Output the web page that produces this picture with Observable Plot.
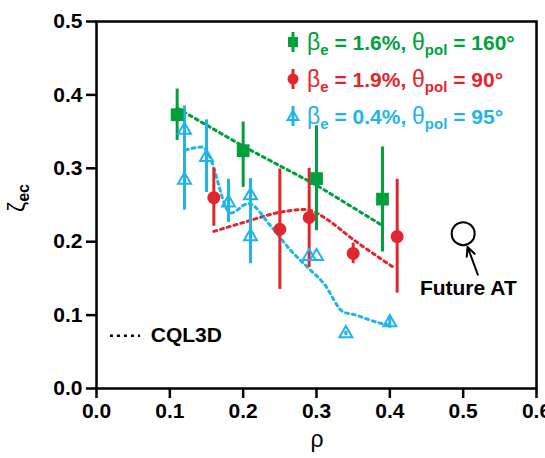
<!DOCTYPE html>
<html>
<head>
<meta charset="utf-8">
<script src="https://cdn.jsdelivr.net/npm/d3@7"></script>
<script src="https://cdn.jsdelivr.net/npm/@observablehq/plot@0.6"></script>
<style>
  html, body { margin: 0; padding: 0; background: white; }
  #chart { width: 545px; height: 458px; }
</style>
</head>
<body>
<div id="chart"></div>
<script>
// ---- data ----
const xTicks = [0.0, 0.1, 0.2, 0.3, 0.4, 0.5, 0.6];
const yTicks = [0.0, 0.1, 0.2, 0.3, 0.4, 0.5];

// beta_e = 1.6%, theta_pol = 160 (green squares)
const rhoG = [0.11, 0.20, 0.30, 0.39];
const zetaG = [0.373, 0.324, 0.286, 0.258];
const loG = [0.338, 0.274, 0.215, 0.186];
const hiG = [0.408, 0.363, 0.358, 0.329];
const cqlRhoG = [0.11, 0.20, 0.30, 0.39];
const cqlZetaG = [0.382, 0.330, 0.277, 0.222];

// beta_e = 1.9%, theta_pol = 90 (red circles)
const rhoR = [0.16, 0.25, 0.29, 0.35, 0.41];
const zetaR = [0.260, 0.217, 0.233, 0.184, 0.207];
const loR = [0.221, 0.135, 0.165, 0.170, 0.130];
const hiR = [0.300, 0.299, 0.300, 0.198, 0.285];
const cqlRhoR = [0.16, 0.20, 0.25, 0.29, 0.315, 0.35, 0.405];
const cqlZetaR = [0.214, 0.226, 0.240, 0.243, 0.230, 0.203, 0.165];

// beta_e = 0.4%, theta_pol = 95 (blue open triangles)
const rhoB = [0.12, 0.12, 0.15, 0.18, 0.21, 0.21, 0.29, 0.30, 0.34, 0.40];
const zetaB = [0.352, 0.284, 0.315, 0.253, 0.263, 0.207, 0.180, 0.180, 0.075, 0.090];
const loB = [0.320, 0.243, 0.267, 0.226, 0.240, 0.170, 0.180, 0.180, 0.072, 0.082];
const hiB = [0.385, 0.325, 0.366, 0.285, 0.286, 0.240, 0.180, 0.180, 0.078, 0.098];
const cqlRhoB = [0.121, 0.145, 0.153, 0.183, 0.207, 0.237, 0.265, 0.288, 0.31, 0.337, 0.35, 0.387, 0.397];
const cqlZetaB = [0.325, 0.329, 0.318, 0.239, 0.252, 0.222, 0.188, 0.165, 0.143, 0.104, 0.101, 0.089, 0.087];

// annotations
const futureAT = [{rho: 0.50, zeta: 0.211}];
const futureArrow = [{x1: 0.520, y1: 0.155, x2: 0.506, y2: 0.193}];
const futureLabel = [{rho: 0.507, zeta: 0.137, text: "Future AT"}];
const cqlKey = [{x1: 0.019, x2: 0.060, y: 0.072}];
const cqlLabel = [{rho: 0.074, zeta: 0.072, text: "CQL3D"}];

const GREEN = "#00a13c", RED = "#e1262e", BLUE = "#1fb4ea";

const pts = (xs, ys, lo, hi) => xs.map((x, i) => ({rho: x, zeta: ys[i], lo: lo ? lo[i] : null, hi: hi ? hi[i] : null}));
const G = pts(rhoG, zetaG, loG, hiG);
const R = pts(rhoR, zetaR, loR, hiR);
const B = pts(rhoB, zetaB, loB, hiB);
const cG = pts(cqlRhoG, cqlZetaG);
const cR = pts(cqlRhoR, cqlZetaR);
const cB = pts(cqlRhoB, cqlZetaB);

const dash = "3,4";
const plot = Plot.plot({
  width: 545,
  height: 458,
  marginLeft: 96,
  marginRight: 9,
  marginTop: 21,
  marginBottom: 70,
  x: {domain: [0, 0.6]},
  y: {domain: [0, 0.5]},
  style: {fontFamily: "'Liberation Sans', Arial, sans-serif", fontSize: "21px", fontWeight: "bold", color: "black", background: "white", overflow: "visible"},
  marks: [
    Plot.axisX({ticks: xTicks, tickFormat: d3.format(".1f"), tickSize: 10, tickPadding: 5, strokeWidth: 2.5, label: null, fontSize: 21}),
    Plot.axisY({ticks: yTicks, tickFormat: d3.format(".1f"), tickSize: 10, tickPadding: 4, strokeWidth: 2.5, label: null, fontSize: 21}),
    Plot.frame({stroke: "black", strokeWidth: 2.5}),
    // CQL3D curves
    Plot.line(cG, {x: "rho", y: "zeta", stroke: GREEN, strokeWidth: 3, strokeDasharray: dash}),
    Plot.line(cR, {x: "rho", y: "zeta", stroke: RED, strokeWidth: 3, strokeDasharray: dash, curve: "catmull-rom"}),
    Plot.line(cB, {x: "rho", y: "zeta", stroke: BLUE, strokeWidth: 3, strokeDasharray: dash, curve: "monotone-x"}),
    // error bars
    Plot.ruleX(B, {x: "rho", y1: "lo", y2: "hi", stroke: BLUE, strokeWidth: 3}),
    Plot.ruleX(R, {x: "rho", y1: "lo", y2: "hi", stroke: RED, strokeWidth: 3}),
    Plot.ruleX(G, {x: "rho", y1: "lo", y2: "hi", stroke: GREEN, strokeWidth: 3}),
    // markers
    Plot.dot(B, {x: "rho", y: "zeta", symbol: "triangle", r: 4.8, stroke: BLUE, strokeWidth: 2, fill: "none"}),
    Plot.dot(R, {x: "rho", y: "zeta", symbol: "circle", r: 6.5, fill: RED, stroke: "none"}),
    Plot.dot(G, {x: "rho", y: "zeta", symbol: "square", r: 7.2, fill: GREEN, stroke: "none"}),
    // Future AT
    Plot.dot(futureAT, {x: "rho", y: "zeta", r: 11.5, stroke: "black", strokeWidth: 2, fill: "white"}),
    Plot.arrow(futureArrow, {x1: "x1", y1: "y1", x2: "x2", y2: "y2", stroke: "black", strokeWidth: 2, headLength: 9, headAngle: 50}),
    Plot.text(futureLabel, {x: "rho", y: "zeta", text: "text", fontSize: 21, fontWeight: "bold", fill: "black"}),
    // CQL3D key
    Plot.ruleY(cqlKey, {x1: "x1", x2: "x2", y: "y", stroke: "black", strokeWidth: 2.5, strokeDasharray: dash}),
    Plot.text(cqlLabel, {x: "rho", y: "zeta", text: "text", textAnchor: "start", fontSize: 21, fontWeight: "bold", fill: "black"})
  ]
});
document.getElementById("chart").appendChild(plot);

// ---- labels and legend ----
const svg = d3.select(plot);
// x label
svg.append("text").attr("x", 317).attr("y", 447).attr("text-anchor", "middle")
  .style("font-size", "23px").style("font-weight", "normal").text("ρ");
// y label
const yl = svg.append("text").attr("transform", "translate(25,212) rotate(-90)").attr("text-anchor", "start")
  .style("font-size", "23px").style("font-weight", "normal");
yl.append("tspan").text("ζ");
yl.append("tspan").attr("dy", 4).style("font-size", "16px").style("font-weight", "bold").text("ec");

const legend = [
  {color: GREEN, sym: "square", beta: "1.6%", theta: "160°", y: 50},
  {color: RED, sym: "circle", beta: "1.9%", theta: "90°", y: 87},
  {color: BLUE, sym: "triangle", beta: "0.4%", theta: "95°", y: 124}
];
const lx = 293;
legend.forEach(d => {
  const cy = d.y - 8;
  svg.append("line").attr("x1", lx).attr("x2", lx).attr("y1", cy - 10).attr("y2", cy + 10)
    .attr("stroke", d.color).attr("stroke-width", 3);
  if (d.sym === "square") {
    svg.append("rect").attr("x", lx - 5).attr("y", cy - 5).attr("width", 10).attr("height", 10).attr("fill", d.color);
  } else if (d.sym === "circle") {
    svg.append("circle").attr("cx", lx).attr("cy", cy).attr("r", 5.5).attr("fill", d.color);
  } else {
    svg.append("path").attr("d", d3.symbol(d3.symbolTriangle, 50)()).attr("transform", `translate(${lx},${cy + 1})`)
      .attr("fill", "none").attr("stroke", d.color).attr("stroke-width", 2);
  }
  const t = svg.append("text").attr("x", 307).attr("y", d.y).attr("fill", d.color).attr("text-anchor", "start")
    .style("font-size", "21px").style("font-weight", "bold");
  t.append("tspan").style("font-weight", "normal").style("font-size", "23px").text("β");
  t.append("tspan").attr("dy", 5).style("font-size", "15px").text("e");
  t.append("tspan").attr("dy", -5).text(` = ${d.beta}, `);
  t.append("tspan").style("font-weight", "normal").style("font-size", "23px").text("θ");
  t.append("tspan").attr("dy", 5).style("font-size", "15px").text("pol");
  t.append("tspan").attr("dy", -5).text(` = ${d.theta}`);
});
</script>
</body>
</html>
